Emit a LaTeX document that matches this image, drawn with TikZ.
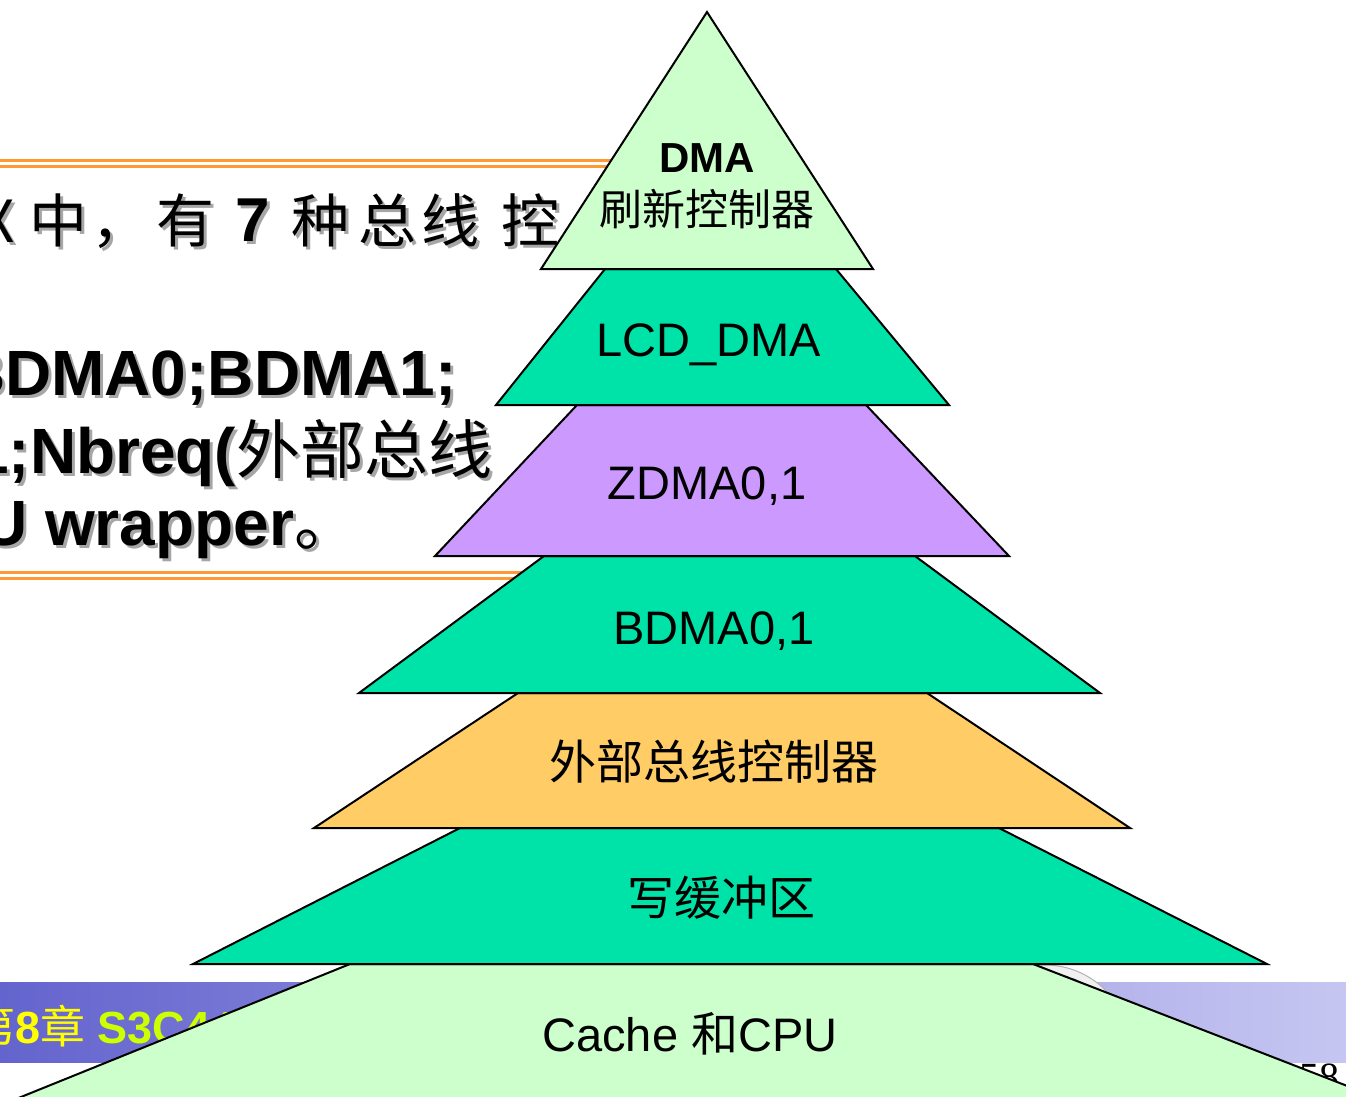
\documentclass[tikz,border=0pt]{standalone}
\usepackage{fontspec}
\setmainfont{Liberation Sans}
\newfontfamily\cjk{Noto Sans CJK SC}
\newfontfamily\serifnum{Liberation Serif}
\definecolor{lgreen}{HTML}{CCFFCC}
\definecolor{teal2}{HTML}{00E3A8}
\definecolor{lilac}{HTML}{CC99FF}
\definecolor{gold}{HTML}{FFCC66}
\definecolor{orangeline}{HTML}{FF9933}
\definecolor{bandL}{HTML}{6464CE}
\definecolor{bandR}{HTML}{C6C6F2}
\definecolor{ylw}{HTML}{FFFF00}
\definecolor{lime}{HTML}{CCFF00}
\tikzset{
  layer/.style={draw=black, line width=2pt, line join=miter},
  lbl/.style={inner sep=0pt, font=\fontsize{47}{50}\selectfont},
  cjklbl/.style={inner sep=0pt, font=\cjk\fontsize{47}{50}\selectfont},
  bgtxt/.style={inner sep=0pt, font=\fontsize{64}{70}\selectfont\bfseries},
  bgshadow/.style={bgtxt, text=black!35},
  l1/.style={inner sep=0pt, anchor=base, font=\cjk\fontsize{58}{60}\selectfont},
  l1shadow/.style={l1, text=black!35},
  oline/.style={draw=orangeline, line width=3pt}
}
\begin{document}
\begin{tikzpicture}[x=1pt,y=-1pt]
\useasboundingbox (0,0) rectangle (1346,1096);
\clip (0,0) rectangle (1346,1096);
\fill[white] (0,0) rectangle (1346,1096);

% background slide: rules
\draw[oline] (0,160) -- (640,160);
\draw[oline] (0,166) -- (640,166);
\draw[oline] (0,572) -- (560,572);
\draw[oline] (0,578) -- (560,578);

% line 1
\foreach \c/\x [count=\i] in {X/-2, 中/58, ，/120, 有/185, 种/320, 总/387, 线/450, 控/530} {
  \node[l1shadow] at (\x+3,245) {\c};
  \node[l1] (l1-\i) at (\x,242) {\c};
}
\node[inner sep=0pt, anchor=base, font=\fontsize{62}{64}\selectfont\bfseries, text=black!35] at (256,244) {7};
\node[inner sep=0pt, anchor=base, font=\fontsize{62}{64}\selectfont\bfseries] (l1-seven) at (253,241) {7};

% line 2
\node[bgshadow, anchor=base east] at (460,398) {BDMA0;BDMA1;};
\node[bgtxt, anchor=base east] (l2) at (457,395) {BDMA0;BDMA1;};
% line 3
\node[bgshadow, anchor=base west] at (-24,476) {1;Nbreq({\cjk\mdseries 外部总线}};
\node[bgtxt, anchor=base west] (l3) at (-27,473) {1;Nbreq({\cjk\mdseries 外部总线}};
% line 4
\node[bgshadow, anchor=base west] at (-16,548) {U wrapper{\cjk\mdseries 。}};
\node[bgtxt, anchor=base west] (l4) at (-19,545) {U wrapper{\cjk\mdseries 。}};

% footer band
\shade[left color=bandL, right color=bandR] (0,982) rectangle (1346,1062);
\node[inner sep=0pt, anchor=base west, text=ylw, font=\fontsize{45}{48}\selectfont\bfseries] (foot) at (-30,1043)
  {{\cjk\mdseries 第}8{\cjk\mdseries 章} \textcolor{lime}{S3C44B0X}};
% seal (mostly hidden)
\fill[black!6] (1045,1050) circle[radius=85];
\draw[black!30, line width=1pt] (1045,1050) circle[radius=85];
\draw[blue!55!black!70, line width=6pt, dash pattern=on 5pt off 3pt] (1045,1050) circle[radius=74];
% page number
\node[inner sep=0pt, anchor=base west, font=\serifnum\fontsize{40}{44}\selectfont] (pg) at (1299,1090) {58};

% pyramid
\filldraw[layer, fill=lgreen] (350,964) -- (1033,964) -- (1435,1120) -- (-36,1120) -- cycle;
\filldraw[layer, fill=teal2] (460,828) -- (999,828) -- (1267,964) -- (193,964) -- cycle;
\filldraw[layer, fill=gold] (518,693) -- (927,693) -- (1130,828) -- (314,828) -- cycle;
\filldraw[layer, fill=teal2] (544,556) -- (915,556) -- (1100,693) -- (359,693) -- cycle;
\filldraw[layer, fill=lilac] (577,405) -- (866,405) -- (1009,556) -- (435,556) -- cycle;
\filldraw[layer, fill=teal2] (605,269) -- (836,269) -- (949,405) -- (496,405) -- cycle;
\filldraw[layer, fill=lgreen] (707,12) -- (873,269) -- (541,269) -- cycle;

% labels
\node[inner sep=0pt, anchor=base, font=\fontsize{42}{44}\selectfont\bfseries] (dma) at (707,172) {DMA};
\node[inner sep=0pt, font=\cjk\fontsize{43}{46}\selectfont] (refresh) at (707,209) {刷新控制器};
\node[lbl, anchor=base] (lcd) at (709,356) {LCD\_DMA};
\node[lbl, anchor=base] (zdma) at (707,499) {ZDMA0,1};
\node[lbl, anchor=base] (bdma) at (714,644) {BDMA0,1};
\node[cjklbl] (ext) at (714,762) {外部总线控制器};
\node[cjklbl] (wbuf) at (721,898) {写缓冲区};
\node[lbl, anchor=base] (cache) at (690,1051) {Cache {\cjk 和}CPU};
\end{tikzpicture}
\end{document}
